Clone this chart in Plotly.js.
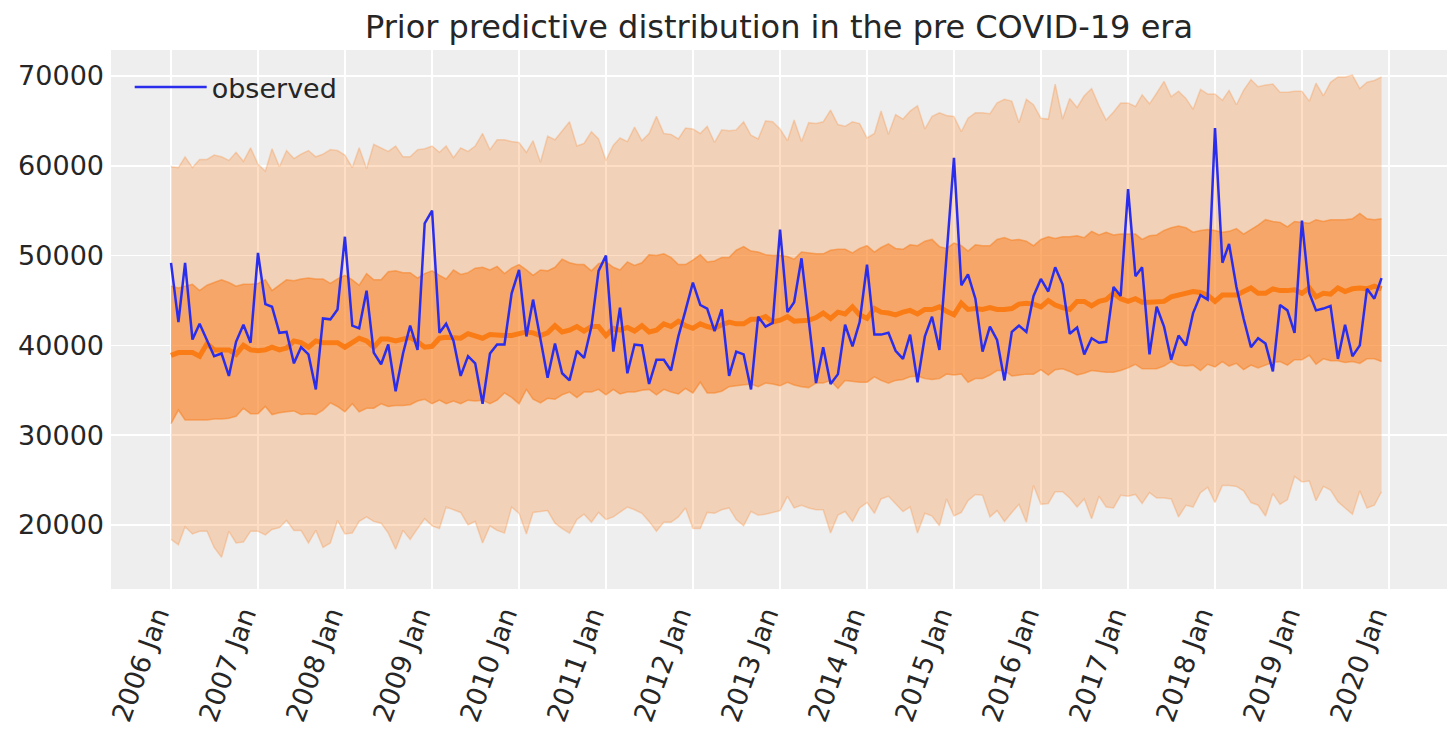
<!DOCTYPE html>
<html><head><meta charset="utf-8">
<script src="https://cdn.plot.ly/plotly-3.0.1.min.js"></script>
<style>html,body{margin:0;padding:0;background:#ffffff}</style>
</head><body>
<div id="chart" style="width:1456px;height:736px"></div>
<script>
// ---- data ----
const startYear = 2006;
const nMonths = 168;
const tickYears = [2006,2007,2008,2009,2010,2011,2012,2013,2014,2015,2016,2017,2018,2019,2020];
const tickLabels = ['2006 Jan','2007 Jan','2008 Jan','2009 Jan','2010 Jan','2011 Jan','2012 Jan','2013 Jan','2014 Jan','2015 Jan','2016 Jan','2017 Jan','2018 Jan','2019 Jan','2020 Jan'];
const yTicks = [20000,30000,40000,50000,60000,70000];

const observed = [
49200,42600,49200,40650,42400,40600,38800,39100,36600,40400,42300,40300,50300,44600,44300,41400,41500,38000,39800,39000,35100,
43000,42900,44000,52100,42200,41900,46100,39200,37900,40100,34900,39100,42200,39500,53600,55000,41400,42400,40500,36600,38800,38000,
33500,39100,40100,40100,45800,48400,41000,45100,40700,36400,40200,36900,36100,39400,38600,42100,48300,50000,39300,44200,36900,
40100,40000,35700,38400,38400,37200,41000,43900,47000,44500,44100,41600,44000,36600,39300,39000,35100,43200,42100,42500,52900,
43700,44800,49700,42800,35800,39800,35700,36800,42300,39900,42600,49000,41200,41200,41400,39400,38500,41200,35900,41000,43200,39500,
50100,60900,46700,47900,45200,39300,42100,40600,36100,41500,42200,41500,45500,47400,46000,48700,46800,41300,42000,39000,40800,
40300,40400,46500,45500,57400,47700,48700,39000,44300,42100,38400,41100,40000,43600,45600,45100,64200,49200,51300,46500,43000,39800,
40800,40200,37100,44500,43900,41400,53900,45800,43900,44100,44400,38500,42300,38800,40000,46300,45200,47500];

const median = [
38900,39200,39200,39200,38800,40200,39500,39500,39500,39000,40000,39500,39400,39500,39800,39500,39700,40500,40300,39800,40500,
40300,40300,40300,39800,40400,40800,40500,39800,40700,40700,40500,40700,40900,40400,39800,39900,40800,40900,40900,40800,41300,41000,
40800,41200,41100,41100,41100,41300,41500,41400,41100,41400,42200,41500,41700,42100,41600,42100,42100,41100,41900,41700,42000,
41600,42200,41500,41700,42400,42100,42700,42200,41900,42400,42100,41900,42300,42600,42400,42400,42900,42900,43200,42600,42800,
43200,42700,42700,42800,43100,43600,43000,43700,43500,44300,43400,43000,44100,43700,43600,43400,43700,43900,43500,44000,44000,44300,
43800,43400,44700,44000,44100,44000,44200,44000,44000,44100,44600,44700,44600,44300,45000,44500,44200,44000,44900,44900,44400,
44900,45100,45800,45200,44900,45200,44800,44800,44800,44900,45400,45600,45700,46000,45900,45600,44900,45600,45600,45600,46000,46400,
45800,45800,46300,46100,46100,46200,45800,46400,45400,45800,45700,46400,46000,46300,46400,46300,46600,46300];

const innerUpper = [
46600,46400,46600,46800,46100,46700,47000,47300,47000,46600,46800,46800,46900,47300,46100,46700,47300,47200,47400,47500,47400,
47400,46900,47400,47800,47300,46700,48000,47300,47300,48200,48300,48100,48100,47500,48000,48300,47800,47400,48400,47900,48100,48600,
48700,48400,48800,48000,48600,49000,48400,47800,48400,48300,48700,49600,49200,49000,49000,48300,49100,49300,48700,48400,49300,
48900,49200,50100,50000,50200,49800,49000,49000,49500,50100,49300,49400,49800,49800,50600,51000,50500,50400,50100,50000,50000,
49900,49600,50400,50300,50200,50200,50600,50700,50700,50300,50800,51100,50400,50900,51300,50800,50700,51200,51100,51600,51800,51000,
50800,51400,51100,50500,51200,51100,51100,51800,52000,51700,51800,51600,51100,51800,52100,51900,52100,52100,52200,52000,52700,
52300,52600,52300,52400,52400,52400,51800,52200,52300,52800,53100,53300,53100,52600,52800,52900,52800,52600,52700,53000,52400,52900,
53400,54000,53800,53700,53200,53800,53700,53600,54000,53800,54000,54000,54000,54100,54700,54100,54000,54100];

const innerLower = [
31300,32800,31700,31700,31700,31700,31800,31800,31900,32100,33000,32400,32400,33200,32300,32500,32600,32700,32300,32400,32300,
32800,33600,33200,32600,33500,32600,33000,33000,33500,33200,33300,33300,33400,33800,34000,33500,33900,33500,33800,33500,33900,33800,
33900,33500,33900,34700,34200,33500,35100,34000,33600,34100,34000,34500,34800,34200,34800,34800,35100,34500,35100,34600,34800,
34800,35000,35100,34500,35100,34800,34600,35200,34700,35900,34700,34700,34900,35400,35500,35600,35700,35400,35800,35700,35500,
35900,35600,35400,35300,35800,35800,36100,35200,36100,36000,35900,35900,36500,36100,35800,36100,36200,36500,36600,36300,36200,36300,
36800,36700,36800,35900,36300,36300,36700,37200,37200,36600,36700,36800,36800,37300,36700,37300,37400,37100,36700,36900,37200,
37100,37000,37000,37200,37500,37900,37400,37400,37400,37700,38200,37800,37700,37800,37200,37900,37600,38200,37700,38000,37300,37800,
37500,37800,38100,38200,37800,38400,38400,38900,37900,38500,38300,38300,38100,38200,38000,38500,38500,38200];

const outerUpper = [
59900,59800,61000,59800,60700,60700,61200,61000,60600,61500,60500,62000,60200,59400,61900,59900,61700,60800,61300,61700,61000,
61300,61800,61700,61200,59800,62000,59700,62400,62000,61600,62200,61000,61000,61800,61900,62200,61500,62200,60900,62000,61600,62200,
63600,61800,62900,62900,62700,62600,61500,62800,60400,63300,62900,63900,64900,62200,62500,63800,63000,60600,62300,63100,62700,
64300,62800,63600,65500,63600,63500,63000,64200,64100,63600,64400,62600,64000,63900,64000,64900,63400,63000,65000,64900,64100,
62800,65100,62700,64800,64700,64900,66200,64600,64400,64900,64700,63100,63600,66100,63500,65700,65200,66100,66700,64100,65500,65900,
65600,65500,63800,65300,65900,65900,65800,67000,67400,67200,64800,67400,66800,65300,65200,69100,65200,67500,66500,67800,68600,
66700,65100,66000,67000,67000,66600,67900,66900,68100,69400,67700,68300,67500,66300,68500,68000,68000,67300,68400,66800,68400,69600,
68800,69000,69100,68200,68200,68300,68300,67200,69200,67800,69300,69900,69900,70100,68600,69300,69500,69900];

const outerLower = [
18400,17800,19800,19000,19300,19300,17500,16400,19300,18000,18100,19300,19300,18900,19500,19700,20500,19400,19400,18000,19400,
17500,18000,20500,19000,19100,20400,20900,20400,20200,19100,17300,19400,18400,19600,20700,19900,19600,22000,21700,21400,20000,20400,
18000,19900,19400,19100,22000,21300,19000,21400,21500,21600,20200,19600,19100,20600,21200,20300,21400,20600,20900,21400,22000,
21700,21300,20400,19300,20300,20300,20900,21900,19600,19600,21400,21300,21700,21900,20600,19900,21500,21100,21200,21400,21600,
23200,21900,22200,21900,21700,21700,19100,21100,21500,20400,21900,22500,21300,22900,23200,22400,21500,22000,19100,21300,21000,19900,
22900,21000,21400,22700,23400,23300,20900,21600,20400,21400,22300,20300,24400,22300,22400,23700,23700,23000,22000,22900,20700,
23200,22000,21900,23300,23200,23400,22400,23600,23000,23000,22900,20900,22200,22000,23600,24200,22500,24400,24400,24300,23800,22500,
22200,21000,23500,22300,22800,25400,24800,24900,22700,24300,23900,22600,21900,21200,23800,21900,22200,23700];

// ---- month dates ----
const dates = [];
for (let i = 0; i < nMonths; i++) {
  const y = startYear + Math.floor(i / 12);
  const m = (i % 12) + 1;
  dates.push(y + '-' + String(m).padStart(2, '0') + '-01');
}
const tickVals = tickYears.map(y => y + '-01-01');

const orange = '250,124,23';
const outerFill = 'rgba(' + orange + ',0.25)';
const innerFill = 'rgba(' + orange + ',0.5)';

const traces = [
  {x: dates, y: outerLower, type: 'scatter', mode: 'lines', line: {color: outerFill, width: 1.5}, showlegend: false, hoverinfo: 'skip'},
  {x: dates, y: outerUpper, type: 'scatter', mode: 'lines', fill: 'tonexty', fillcolor: outerFill, line: {color: outerFill, width: 1.5}, showlegend: false, hoverinfo: 'skip'},
  {x: dates, y: innerLower, type: 'scatter', mode: 'lines', line: {color: innerFill, width: 1.5}, showlegend: false, hoverinfo: 'skip'},
  {x: dates, y: innerUpper, type: 'scatter', mode: 'lines', fill: 'tonexty', fillcolor: innerFill, line: {color: innerFill, width: 1.5}, showlegend: false, hoverinfo: 'skip'},
  {x: dates, y: median, type: 'scatter', mode: 'lines', line: {color: '#fa7c17', width: 5}, showlegend: false},
  {x: dates, y: observed, type: 'scatter', mode: 'lines', name: 'observed', line: {color: '#2a2eec', width: 2.5}}
];

const fontFamily = 'DejaVu Sans, sans-serif';
const layout = {
  width: 1456, height: 736,
  margin: {l: 111, r: 9, t: 50, b: 147, pad: 0},
  paper_bgcolor: '#ffffff',
  plot_bgcolor: '#eeeeee',
  font: {family: fontFamily, size: 27, color: '#262626'},
  title: {text: 'Prior predictive distribution in the pre COVID-19 era', font: {family: fontFamily, size: 32, color: '#262626'},
          x: 0.5, xref: 'paper', y: 0.963, yref: 'container', yanchor: 'middle'},
  xaxis: {type: 'date', range: ['2005-04-24', '2020-09-01'], tickvals: tickVals, ticktext: tickLabels, tickangle: -70,
          showgrid: true, gridcolor: '#ffffff', gridwidth: 1.6, zeroline: false, showline: false, ticks: '',
          tickfont: {size: 27, color: '#262626'}, ticklabelshift: -14, ticklabelstandoff: 4},
  yaxis: {range: [12873, 72895], tickvals: yTicks, tickformat: 'd',
          showgrid: true, gridcolor: '#ffffff', gridwidth: 1.6, zeroline: false, showline: false, ticks: '',
          tickfont: {size: 27, color: '#262626'}, ticklabelstandoff: 6},
  legend: {x: 0.014, y: 0.976, xanchor: 'left', yanchor: 'top', bgcolor: 'rgba(0,0,0,0)', borderwidth: 0,
           itemwidth: 72, font: {size: 27, color: '#262626'}},
  showlegend: true
};

Plotly.newPlot('chart', traces, layout, {staticPlot: true, displayModeBar: false});
</script>
</body></html>
